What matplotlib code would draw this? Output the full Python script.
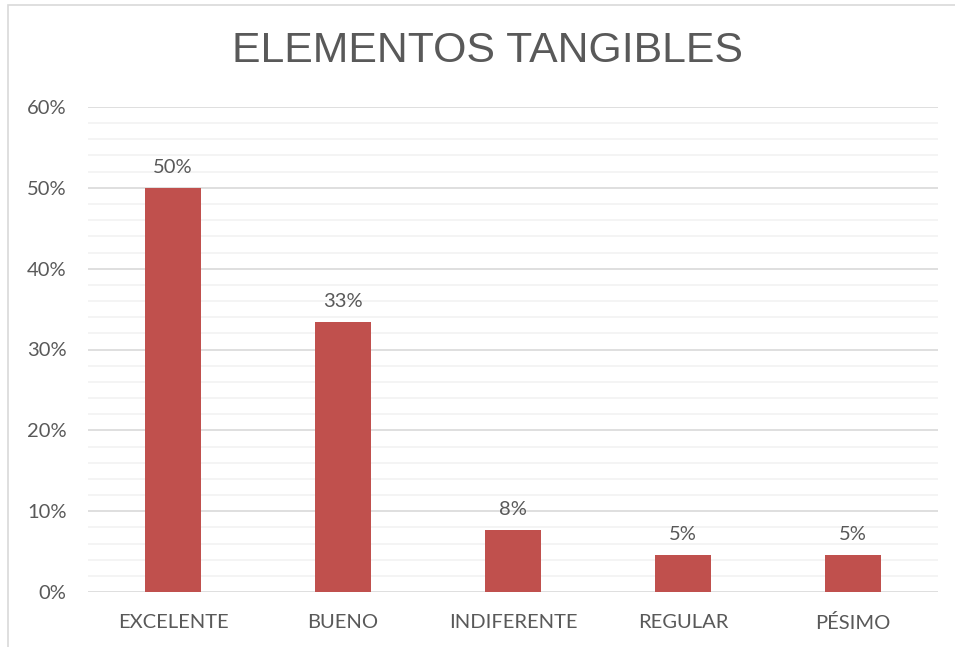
import matplotlib
matplotlib.use("Agg")
import matplotlib.pyplot as plt
from matplotlib.ticker import MultipleLocator, FuncFormatter
from matplotlib.patches import Rectangle

categories = ["EXCELENTE", "BUENO", "INDIFERENTE", "REGULAR", "PÉSIMO"]
values = [50.0, 33.4, 7.7, 4.6, 4.6]
labels = ["50%", "33%", "8%", "5%", "5%"]
title = "ELEMENTOS TANGIBLES"

text_color = "#595959"
bar_color = "#C0504D"
fs = 14.5

fig = plt.figure(figsize=(9.55, 6.47), dpi=100)
ax = fig.add_axes([88/955, 1-592/647, (938-88)/955, (592-107)/647])

x = range(len(categories))
bars = ax.bar(x, values, width=0.33, color=bar_color, zorder=3)
for xi, v, lab in zip(x, values, labels):
    ax.text(xi, v + 1.5, lab, ha="center", va="bottom", fontsize=fs,
            family="Lato", color=text_color)

ax.set_xlim(-0.5, len(categories) - 0.5)
ax.set_ylim(0, 60)
ax.yaxis.set_major_locator(MultipleLocator(10))
ax.yaxis.set_minor_locator(MultipleLocator(2))
ax.yaxis.set_major_formatter(FuncFormatter(lambda v, p: f"{int(v)}%"))
ax.grid(axis="y", which="major", color="#D9D9D9", linewidth=1.2, zorder=0)
ax.grid(axis="y", which="minor", color="#F2F2F2", linewidth=1.2, zorder=0)
ax.set_xticks(list(x))
ax.set_xticklabels(categories)
for s in ax.spines.values():
    s.set_visible(False)
ax.tick_params(axis="both", which="both", length=0, labelsize=fs, labelcolor=text_color)
ax.tick_params(axis="y", pad=15.5)
ax.tick_params(axis="x", pad=16)
for t in ax.get_xticklabels() + ax.get_yticklabels():
    t.set_family("Lato")

fig.text(487/955, 1-51/647, title, ha="center", va="center", fontsize=30.8,
         family="Liberation Sans", color=text_color)

fig.patches.append(Rectangle((8/955, -0.1), 1.2, 1 - 5/647 + 0.1, transform=fig.transFigure,
                             fill=False, edgecolor="#D9D9D9", linewidth=1.2))

fig.savefig("out.png", dpi=100)
